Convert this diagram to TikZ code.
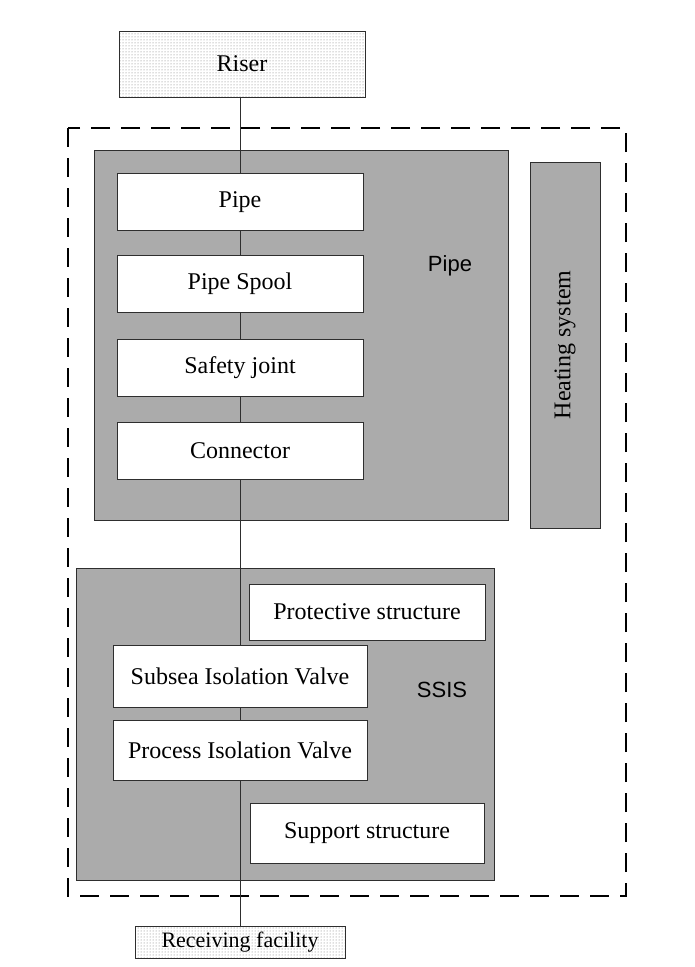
\documentclass[tikz,border=0pt]{standalone}
\usepackage{fontspec}
\setmainfont{Liberation Serif}
\newfontfamily\labelsans{Liberation Sans}
\usepackage{xcolor}
\usetikzlibrary{patterns}
\definecolor{Sys_Gray}{HTML}{ABABAB}
\definecolor{Ink_Black}{HTML}{2E2E2E}

\begin{document}
\begin{tikzpicture}[x=1pt, y=-1pt,
    compbox/.style={draw=Ink_Black, line width=0.9pt, fill=white, inner sep=0pt,
        minimum width=246pt, minimum height=57pt, font=\fontsize{24}{27}\selectfont},
    endbox/.style={draw=Ink_Black, line width=0.9pt, pattern=dots, pattern color=black!55,
        inner sep=0pt, font=\fontsize{24}{27}\selectfont},
    sysbox/.style={draw=Ink_Black, line width=0.9pt, fill=Sys_Gray, inner sep=0pt},
    flowline/.style={draw=Ink_Black, line width=0.8pt}]
    \useasboundingbox (0,0) rectangle (694,967);

    % ===== Outer boundary (dashed) =====
    \draw[line width=2.6pt, dash pattern=on 19pt off 11pt] (68,128) rectangle (626,896);

    % ===== Pipe system =====
    \node[sysbox, minimum width=414pt, minimum height=370pt] (pipesys) at (301,335) {};
    \node[font=\labelsans\fontsize{22}{24}\selectfont] (pipelbl) at (450,266) {Pipe};

    % ===== Heating system =====
    \node[sysbox, minimum width=70pt, minimum height=366pt] (heating) at (565,345) {};
    \node[rotate=90, font=\fontsize{24}{27}\selectfont] (heatlbl) at (565,345) {Heating system};

    % ===== SSIS =====
    \node[sysbox, minimum width=418pt, minimum height=312pt] (ssis) at (285,724) {};
    \node[font=\labelsans\fontsize{22}{24}\selectfont] (ssislbl) at (442,690) {SSIS};

    % ===== End points =====
    \node[endbox, minimum width=246pt, minimum height=66pt] (riser) at (242,64) {Riser};
    \node[endbox, minimum width=210pt, minimum height=32pt,
        font=\fontsize{22}{24}\selectfont] (recv) at (240,942) {Receiving facility};

    % ===== Pipe components =====
    \node[compbox] (pipe) at (240,202) {Pipe};
    \node[compbox] (spool) at (240,284) {Pipe Spool};
    \node[compbox] (safety) at (240,368) {Safety joint};
    \node[compbox] (conn) at (240,451) {Connector};

    % ===== SSIS components =====
    \node[compbox, minimum width=236pt, minimum height=56pt] (protect) at (367,612) {Protective structure};
    \node[compbox, minimum width=254pt, minimum height=62pt] (subsea) at (240,676) {Subsea Isolation Valve};
    \node[compbox, minimum width=254pt, minimum height=60pt] (process) at (240,750) {Process Isolation Valve};
    \node[compbox, minimum width=234pt, minimum height=60pt] (support) at (367,833) {Support structure};

    % Flow line through the chain
    \draw[flowline] (riser.south -| pipe.north) -- (pipe.north);
    \draw[flowline] (pipe) -- (spool);
    \draw[flowline] (spool) -- (safety);
    \draw[flowline] (safety) -- (conn);
    \draw[flowline] (conn) -- (subsea);
    \draw[flowline] (subsea) -- (process);
    \draw[flowline] (process.south) -- (recv.north);
\end{tikzpicture}
\end{document}
